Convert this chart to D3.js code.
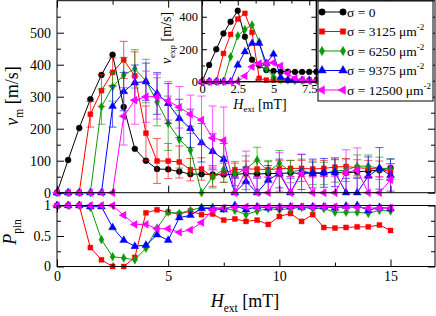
<!DOCTYPE html>
<html>
<head>
<meta charset="utf-8">
<script src="https://cdn.jsdelivr.net/npm/d3@7"></script>
<style>
body { margin: 0; background: #fff; }
svg text { font-family: "Liberation Serif", "Times New Roman", serif; fill: #000; }
</style>
</head>
<body>
<svg id="chart" width="436" height="316"></svg>
<script>
// field values (mT), main panels
var hMain = [0, 0.5, 1, 1.5, 2, 2.5, 3, 3.5, 4, 4.5, 5, 5.5, 6, 6.5, 7, 7.5, 8, 8.5, 9, 9.5, 10, 10.5, 11, 11.5, 12, 12.5, 13, 13.5, 14, 14.5, 15];

// v_m [m/s]
var vBlack   = [0, 102, 202, 292, 368, 431, 268, 137, 100, 74, 73, 66, 58, 58, 57, 57, 57, 60, 58, 60, 60, 62, 60, 62, 62, 63, 62, 65, 68, 70, 77];
var vRed     = [0, 0, 0, 245, 319, 376, 415, 365, 186, 99, 99, 96, 72, 74, 50, 62, 72, 74, 74, 72, 75, 76, 76, 74, 76, 80, 82, 78, 76, 74, 66];
var vGreen   = [0, 0, 0, 0, 269, 331, 368, 387, 349, 284, 217, 167, 133, 0, 50, 73, 57, 75, 102, 66, 92, 66, 70, 60, 60, 68, 70, 83, 83, 76, 76];
var vBlue    = [0, 0, 0, 0, 0, 270, 316, 344, 347, 310, 279, 232, 201, 156, 129, 104, 0, 35, 0, 40, 60, 0, 65, 60, 62, 64, 0, 0, 52, 76, 55];
var vMagenta = [0, 0, 0, 0, 0, 0, 239, 289, 300, 300, 287, 267, 245, 227, 171, 163, 0, 70, 0, 0, 65, 0, 60, 0, 0, 0, 64, 70, 0, 0, 40];

// error bars (half width, m/s)
var errRed     = [0, 0, 0, 40, 50, 45, 58, 75, 85, 70, 55, 50, 35, 35, 30, 30, 25, 25, 25, 25, 25, 25, 25, 25, 25, 25, 25, 25, 25, 25, 25];
var errGreen   = [0, 0, 0, 0, 55, 45, 55, 60, 68, 75, 85, 90, 75, 0, 35, 40, 35, 40, 40, 35, 40, 35, 35, 35, 35, 35, 35, 35, 35, 35, 30];
var errBlue    = [0, 0, 0, 0, 0, 65, 60, 55, 58, 65, 62, 60, 60, 60, 55, 50, 45, 45, 45, 45, 45, 45, 55, 45, 45, 45, 45, 45, 60, 65, 50];
var errMagenta = [0, 0, 0, 0, 0, 0, 90, 75, 80, 70, 60, 65, 60, 75, 100, 105, 50, 60, 50, 50, 60, 50, 60, 50, 50, 50, 70, 70, 50, 50, 50];

// P_pin
var pRed     = [1, 1, 1, 0.31, 0.11, 0, 0, 0.15, 0.88, 0.93, 0.89, 0.86, 0.91, 0.85, 0.86, 0.76, 0.78, 0.74, 0.76, 0.69, 0.82, 0.87, 0.74, 0.85, 0.64, 0.63, 0.64, 0.65, 0.65, 0.68, 0.59];
var pGreen   = [1, 1, 1, 0.97, 0.44, 0.16, 0.14, 0.11, 0.30, 0.63, 0.89, 0.87, 0.92, 0.97, 0.97, 0.95, 0.92, 0.85, 0.91, 0.95, 0.93, 0.95, 0.97, 0.95, 0.95, 0.89, 0.89, 0.89, 0.87, 0.92, 0.91];
var pBlue    = [1, 1, 1, 0.98, 0.98, 0.64, 0.43, 0.33, 0.35, 0.52, 0.43, 0.80, 0.84, 0.95, 0.95, 0.93, 1, 0.93, 0.98, 0.96, 0.97, 0.98, 0.97, 0.98, 0.98, 0.96, 0.99, 1, 0.92, 0.97, 0.95];
var pMagenta = [1, 1, 1, 1, 1, 1, 0.84, 0.69, 0.69, 0.62, 0.62, 0.56, 0.60, 0.72, 0.93, 0.96, 0.97, 0.98, 0.97, 0.98, 0.97, 0.98, 0.98, 0.97, 0.98, 0.98, 0.97, 0.97, 0.96, 0.96, 0.96];

// inset: v_exp
var hInset = [0, 0.5, 1, 1.5, 2, 2.5, 3, 3.5, 4, 4.5, 5, 5.5, 6, 6.5, 7, 7.5, 8];
var expBlack   = [0, 103, 200, 297, 369, 437, 277, 135, 100, 72, 66, 62, 62, 60, 60, 60, 62];
var expRed     = [0, 0, 0, 174, 291, 386, 421, 304, 21, 10, 10, 8, 8, 8, 8, 8, 10];
var expGreen   = [0, 0, 0, 0, 154, 283, 322, 349, 246, 82, 31, 14, 10, 8, 8, 8, 8];
var expBlue    = [0, 0, 0, 0, 0, 103, 185, 236, 236, 113, 170, 27, 10, 8, 8, 8, 8];
var expMagenta = [0, 0, 0, 0, 0, 0, 35, 92, 113, 113, 117, 98, 51, 21, 10, 5, 5];

// ticks
var xTicks = [0, 5, 10, 15];
var xMinor = [2.5, 7.5, 12.5];
var vTicks = [0, 100, 200, 300, 400, 500];
var vMinor = [50, 150, 250, 350, 450, 550];
var pTicks = [0, 0.5, 1];
var pMinor = [0.25, 0.75];
var inXTicks = [0, 2.5, 5, 7.5];
var inXMinor = [1.25, 3.75, 6.25];
var inYTicks = [0, 200, 400];
var inYMinor = [100, 300];

var legendLabels = ["\u03c3 = 0", "\u03c3 = 3125 \u03bcm", "\u03c3 = 6250 \u03bcm", "\u03c3 = 9375 \u03bcm", "\u03c3 = 12500 \u03bcm"];

var colors = ["#000000", "#ff0000", "#0b9a0b", "#0000ff", "#ff00ff"];
var shapes = [d3.symbolCircle, d3.symbolSquare, d3.symbolDiamond, d3.symbolTriangle, d3.symbolTriangle];
var sizes = [28, 25, 22, 27, 27];
var rotations = [0, 0, 0, 0, -90];

var series = [
  { v: vBlack,   err: null,       p: null,     exp: expBlack },
  { v: vRed,     err: errRed,     p: pRed,     exp: expRed },
  { v: vGreen,   err: errGreen,   p: pGreen,   exp: expGreen },
  { v: vBlue,    err: errBlue,    p: pBlue,    exp: expBlue },
  { v: vMagenta, err: errMagenta, p: pMagenta, exp: expMagenta }
];

var svg = d3.select("#chart");

var x = d3.scaleLinear().domain([0, 17]).range([57, 435]);
var yTop = d3.scaleLinear().domain([0, 600]).range([192.7, 0.7]);
var yPin = d3.scaleLinear().domain([0, 1]).range([266.5, 205.5]);
var xIn = d3.scaleLinear().domain([0, 8]).range([202, 316.4]);
var yIn = d3.scaleLinear().domain([0, 500]).range([81.7, 0.5]);

function marker(i, sz) {
  return d3.symbol().type(shapes[i]).size(sz || sizes[i])();
}

function drawMarkers(g, xs, ys, xsc, ysc, i, sz) {
  g.selectAll(null).data(xs).enter().append("path")
    .attr("d", marker(i, sz))
    .attr("transform", function(d, j) {
      return "translate(" + xsc(d) + "," + ysc(ys[j]) + ") rotate(" + rotations[i] + ")";
    })
    .attr("fill", colors[i])
    .attr("stroke", colors[i])
    .attr("stroke-width", 0.4);
}

function drawLine(g, xs, ys, xsc, ysc, i) {
  var line = d3.line()
    .x(function(d, j) { return xsc(xs[j]); })
    .y(function(d) { return ysc(d); });
  g.append("path").datum(ys)
    .attr("d", line)
    .attr("fill", "none")
    .attr("stroke", colors[i])
    .attr("stroke-width", 1);
}

function frameAxes(g, xsc, ysc, opt) {
  var x0 = xsc.range()[0], x1 = xsc.range()[1];
  var y0 = ysc.range()[0], y1 = ysc.range()[1];
  var ax;
  // bottom
  ax = d3.axisBottom(xsc).tickValues(opt.xt).tickSize(-opt.maj).tickPadding(opt.xpad)
    .tickFormat(opt.xlab ? opt.xfmt : "");
  g.append("g").attr("transform", "translate(0," + y0 + ")").call(ax).attr("font-size", opt.fs);
  g.append("g").attr("transform", "translate(0," + y0 + ")")
    .call(d3.axisBottom(xsc).tickValues(opt.xm).tickSize(-opt.min).tickFormat(""));
  // top
  g.append("g").attr("transform", "translate(0," + y1 + ")")
    .call(d3.axisTop(xsc).tickValues(opt.xt).tickSize(-opt.maj).tickFormat(""));
  g.append("g").attr("transform", "translate(0," + y1 + ")")
    .call(d3.axisTop(xsc).tickValues(opt.xm).tickSize(-opt.min).tickFormat(""));
  // left
  ax = d3.axisLeft(ysc).tickValues(opt.yt).tickSize(-opt.maj).tickPadding(opt.ypad).tickFormat(opt.yfmt);
  g.append("g").attr("transform", "translate(" + x0 + ",0)").call(ax).attr("font-size", opt.fs);
  g.append("g").attr("transform", "translate(" + x0 + ",0)")
    .call(d3.axisLeft(ysc).tickValues(opt.ym).tickSize(-opt.min).tickFormat(""));
  // right
  g.append("g").attr("transform", "translate(" + x1 + ",0)")
    .call(d3.axisRight(ysc).tickValues(opt.yt).tickSize(-opt.maj).tickFormat(""));
  g.append("g").attr("transform", "translate(" + x1 + ",0)")
    .call(d3.axisRight(ysc).tickValues(opt.ym).tickSize(-opt.min).tickFormat(""));
  g.selectAll(".domain").remove();
  g.selectAll(".tick text").attr("font-family", "Liberation Serif, Times New Roman, serif").attr("fill", "#000");
  g.append("rect")
    .attr("x", x0).attr("y", y1)
    .attr("width", x1 - x0).attr("height", y0 - y1)
    .attr("fill", "none").attr("stroke", "#000").attr("stroke-width", opt.sw || 1);
}

// ---------- top panel ----------
var gTop = svg.append("g");
series.forEach(function(s, i) {
  var gs = gTop.append("g");
  if (s.err) {
    var ge = gs.append("g").attr("stroke", colors[i]).attr("stroke-opacity", 0.65).attr("stroke-width", 1);
    hMain.forEach(function(h, j) {
      if (!s.err[j]) return;
      var lo = Math.max(0, s.v[j] - s.err[j]), hi = s.v[j] + s.err[j];
      var cx = x(h);
      ge.append("line").attr("x1", cx).attr("x2", cx).attr("y1", yTop(lo)).attr("y2", yTop(hi));
      ge.append("line").attr("x1", cx - 4).attr("x2", cx + 4).attr("y1", yTop(hi)).attr("y2", yTop(hi));
      if (s.v[j] - s.err[j] > 0)
        ge.append("line").attr("x1", cx - 4).attr("x2", cx + 4).attr("y1", yTop(lo)).attr("y2", yTop(lo));
    });
  }
  drawLine(gs, hMain, s.v, x, yTop, i);
  drawMarkers(gs, hMain, s.v, x, yTop, i);
});
frameAxes(gTop, x, yTop, {
  xt: xTicks, xm: xMinor, yt: vTicks, ym: vMinor, maj: 7, min: 4,
  xlab: false, xpad: 6, ypad: 6, fs: 14, yfmt: d3.format("d")
});

// ---------- bottom panel ----------
var gPin = svg.append("g");
series.forEach(function(s, i) {
  if (!s.p) return;
  var gs = gPin.append("g");
  drawLine(gs, hMain, s.p, x, yPin, i);
  drawMarkers(gs, hMain, s.p, x, yPin, i);
});
frameAxes(gPin, x, yPin, {
  xt: xTicks, xm: xMinor, yt: pTicks, ym: pMinor, maj: 7, min: 4,
  xlab: true, xfmt: d3.format("d"), xpad: 5, ypad: 6, fs: 14,
  yfmt: function(d) { return d === 0.5 ? "0.5" : d3.format("d")(d); }
});

// ---------- inset ----------
var gIn = svg.append("g");
gIn.append("rect")
  .attr("x", xIn.range()[0]).attr("y", yIn.range()[1])
  .attr("width", xIn.range()[1] - xIn.range()[0]).attr("height", yIn.range()[0] - yIn.range()[1])
  .attr("fill", "#fff");
series.forEach(function(s, i) {
  var gs = gIn.append("g");
  drawLine(gs, hInset, s.exp, xIn, yIn, i);
  drawMarkers(gs, hInset, s.exp, xIn, yIn, i, sizes[i] * 0.95);
});
frameAxes(gIn, xIn, yIn, {
  xt: inXTicks, xm: inXMinor, yt: inYTicks, ym: inYMinor, maj: 5, min: 3,
  xlab: true, xfmt: function(d) { return d % 1 ? d3.format(".1f")(d) : d3.format("d")(d); },
  xpad: 2, ypad: 4, fs: 12.5, yfmt: d3.format("d"), sw: 1.4
});

// ---------- axis titles ----------
function subLabel(parent, main, sub, rest, fs, attrs) {
  var t = parent.append("text").attr("font-size", fs).attr("text-anchor", "middle");
  Object.keys(attrs).forEach(function(k) { t.attr(k, attrs[k]); });
  t.append("tspan").attr("font-style", "italic").text(main);
  t.append("tspan").attr("font-size", fs * 0.64).attr("dy", fs * 0.28).text(sub);
  t.append("tspan").attr("dy", -fs * 0.28).text(rest);
  return t;
}
subLabel(svg, "H", "ext", " [mT]", 18, { transform: "translate(245,307)" });
subLabel(svg, "v", "m", " [m/s]", 18, { transform: "translate(18,96) rotate(-90)" });
subLabel(svg, "P", "pin", "", 18, { transform: "translate(16,232) rotate(-90)" });
subLabel(svg, "H", "ext", " [mT]", 14, { transform: "translate(260,108.5)" });
subLabel(svg, "v", "exp", " [m/s]", 14, { transform: "translate(171,38) rotate(-90)" });

// ---------- legend ----------
var gLeg = svg.append("g");
gLeg.append("rect").attr("x", 318).attr("y", 1).attr("width", 115).attr("height", 100)
  .attr("fill", "#fff").attr("stroke", "#000").attr("stroke-width", 1);
legendLabels.forEach(function(lab, i) {
  var yy = 12 + i * 19.5;
  gLeg.append("line").attr("x1", 322).attr("x2", 343).attr("y1", yy).attr("y2", yy)
    .attr("stroke", colors[i]).attr("stroke-width", 1);
  [322, 343].forEach(function(xx) {
    gLeg.append("path").attr("d", marker(i, sizes[i] * 1.2))
      .attr("transform", "translate(" + xx + "," + yy + ") rotate(" + rotations[i] + ")")
      .attr("fill", colors[i]).attr("stroke", colors[i]).attr("stroke-width", 0.4);
  });
  var t = gLeg.append("text").attr("x", 347).attr("y", yy + 4.5).attr("font-size", 13.5).text(lab);
  if (i > 0) t.append("tspan").attr("dy", -6).attr("font-size", 9).text("-2");
});
</script>
</body>
</html>
